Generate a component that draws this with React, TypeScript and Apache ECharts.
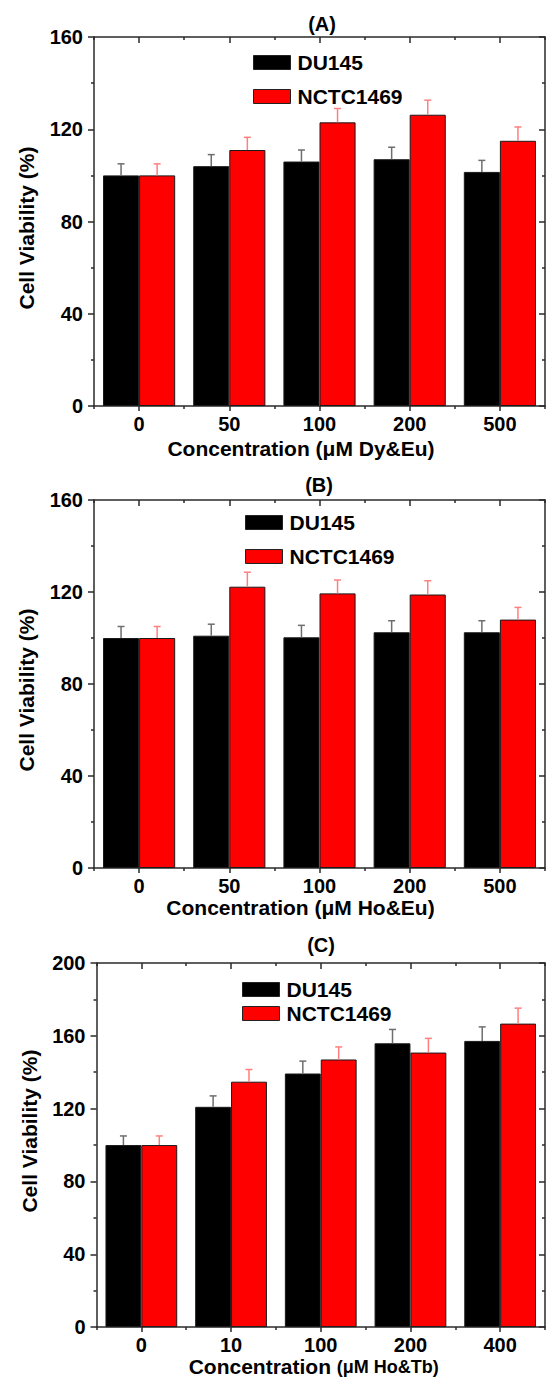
import React, { useEffect, useRef } from "react";
import * as echarts from "echarts";

// ---- Data ----
const categoriesA = ["0", "50", "100", "200", "500"];
const categoriesB = ["0", "50", "100", "200", "500"];
const categoriesC = ["0", "10", "100", "200", "400"];

const du145A = [100, 104, 106, 107, 101.5];
const du145ErrA = [5, 5, 5, 5.2, 5];
const nctcA = [100, 111, 123, 126.3, 115];
const nctcErrA = [5, 5.5, 6, 6.3, 6];

const du145B = [100, 101, 100.3, 102.5, 102.5];
const du145ErrB = [5, 5, 5.2, 5, 5];
const nctcB = [100, 122.3, 119.4, 118.9, 108];
const nctcErrB = [5, 6.3, 5.8, 6, 5.3];

const du145C = [100, 121, 139.3, 155.9, 157.2];
const du145ErrC = [5, 6, 6.8, 7.6, 7.7];
const nctcC = [100, 134.8, 147, 150.8, 166.7];
const nctcErrC = [5, 6.7, 6.9, 7.8, 8.5];

const yMaxA = 160;
const yMaxB = 160;
const yMaxC = 200;
const yInterval = 40;

const FONT = "'Liberation Sans', Arial, sans-serif";
const AXIS_COLOR = "#2a2a2a";

type Panel = {
  label: string;
  cats: string[];
  du: number[];
  duErr: number[];
  nc: number[];
  ncErr: number[];
  yMax: number;
  xName: string;
  xRich: boolean;
  grid: { left: number; top: number; width: number; height: number };
  titlePos: [number, number];
  legend: { left: number; top: number; gap: number };
  xNameGap: number;
  xNamePad: number[];
  yNamePad: number[];
};

const panels: Panel[] = [
  {
    label: "(A)",
    cats: categoriesA,
    du: du145A,
    duErr: du145ErrA,
    nc: nctcA,
    ncErr: nctcErrA,
    yMax: yMaxA,
    xName: "Concentration (μM Dy&Eu)",
    xRich: false,
    grid: { left: 94, top: 37, width: 451, height: 369 },
    titlePos: [322, 24],
    legend: { left: 248, top: 47, gap: 13 },
    xNameGap: 32,
    xNamePad: [0, 37, 0, 0],
    yNamePad: [0, 13, 0, 0],
  },
  {
    label: "(B)",
    cats: categoriesB,
    du: du145B,
    duErr: du145ErrB,
    nc: nctcB,
    ncErr: nctcErrB,
    yMax: yMaxB,
    xName: "Concentration (μM Ho&Eu)",
    xRich: false,
    grid: { left: 94, top: 500, width: 451, height: 368 },
    titlePos: [319, 485],
    legend: { left: 240, top: 507, gap: 13 },
    xNameGap: 29,
    xNamePad: [0, 38, 0, 0],
    yNamePad: [0, 12, 0, 0],
  },
  {
    label: "(C)",
    cats: categoriesC,
    du: du145C,
    duErr: du145ErrC,
    nc: nctcC,
    ncErr: nctcErrC,
    yMax: yMaxC,
    xName: "{a|Concentration }{b|(μM Ho&Tb)}",
    xRich: true,
    grid: { left: 96.5, top: 963, width: 448.5, height: 369 },
    titlePos: [321, 945],
    legend: { left: 237, top: 974, gap: 3 },
    xNameGap: 24,
    xNamePad: [0, 14, 0, 0],
    yNamePad: [0, 0, 0, 28],
  },
];

function errorSeries(
  name: string,
  data: number[],
  err: number[],
  xi: number,
  yi: number,
  sign: number,
  color: string
) {
  return {
    type: "custom",
    name,
    xAxisIndex: xi,
    yAxisIndex: yi,
    z: 5,
    silent: true,
    data: data.map((v, i) => [i, v, err[i]]),
    encode: { x: 0, y: 1 },
    renderItem: (params: any, api: any) => {
      const idx = api.value(0);
      const val = api.value(1);
      const e = api.value(2);
      const base = api.coord([idx, val]);
      const top = api.coord([idx, val + e]);
      const band = api.size([1, 0])[0];
      const x = base[0] + sign * band * 0.2;
      const style = { stroke: color, lineWidth: 1.5 };
      return {
        type: "group",
        children: [
          { type: "line", shape: { x1: x, y1: base[1], x2: x, y2: top[1] }, style },
          { type: "line", shape: { x1: x - 3.5, y1: top[1], x2: x + 3.5, y2: top[1] }, style },
        ],
      };
    },
  };
}

function buildOption() {
  const grid: any[] = [];
  const xAxis: any[] = [];
  const yAxis: any[] = [];
  const series: any[] = [];
  const legend: any[] = [];
  const graphic: any[] = [];

  panels.forEach((p, pi) => {
    grid.push({ ...p.grid, containLabel: false });
    const xb = pi * 4;
    const yb = pi * 2;
    const lineStyle = { color: AXIS_COLOR, width: 1.5 };
    const labelStyle = {
      fontSize: 20,
      fontWeight: "bold",
      fontFamily: FONT,
      color: "#000",
    };
    const nameStyle: any = {
      fontSize: 21,
      fontWeight: "bold",
      fontFamily: FONT,
      color: "#000",
      padding: p.xNamePad,
    };
    if (p.xRich) {
      nameStyle.rich = {
        a: { fontSize: 21, fontWeight: "bold", fontFamily: FONT, color: "#000" },
        b: { fontSize: 18, fontWeight: "bold", fontFamily: FONT, color: "#000" },
      };
    }
    // bottom main axis
    xAxis.push({
      type: "category",
      gridIndex: pi,
      position: "bottom",
      data: p.cats,
      boundaryGap: true,
      axisLine: { show: true, onZero: false, lineStyle },
      axisTick: { show: true, alignWithLabel: true, length: 5, lineStyle },
      axisLabel: { ...labelStyle, margin: 8 },
      name: p.xName,
      nameLocation: "middle",
      nameGap: p.xNameGap,
      nameTextStyle: nameStyle,
      splitLine: { show: false },
    });
    // bottom minor ticks (band boundaries)
    xAxis.push({
      type: "category",
      gridIndex: pi,
      position: "bottom",
      data: p.cats,
      boundaryGap: true,
      axisLine: { show: false, onZero: false },
      axisTick: { show: true, alignWithLabel: false, length: 3, lineStyle },
      axisLabel: { show: false },
      splitLine: { show: false },
    });
    // top main
    xAxis.push({
      type: "category",
      gridIndex: pi,
      position: "top",
      data: p.cats,
      boundaryGap: true,
      axisLine: { show: true, onZero: false, lineStyle },
      axisTick: { show: true, inside: true, alignWithLabel: true, length: 6, lineStyle },
      axisLabel: { show: false },
      splitLine: { show: false },
    });
    // top minor
    xAxis.push({
      type: "category",
      gridIndex: pi,
      position: "top",
      data: p.cats,
      boundaryGap: true,
      axisLine: { show: false, onZero: false },
      axisTick: { show: true, inside: true, alignWithLabel: false, length: 3, lineStyle },
      axisLabel: { show: false },
      splitLine: { show: false },
    });
    // left y
    yAxis.push({
      type: "value",
      gridIndex: pi,
      position: "left",
      min: 0,
      max: p.yMax,
      interval: yInterval,
      axisLine: { show: true, onZero: false, lineStyle },
      axisTick: { show: true, length: 6, lineStyle },
      minorTick: { show: true, splitNumber: 2, length: 3, lineStyle },
      axisLabel: { ...labelStyle, margin: 11 },
      splitLine: { show: false },
      name: "Cell Viability (%)",
      nameLocation: "middle",
      nameRotate: 90,
      nameGap: 57,
      nameTextStyle: {
        fontSize: 21,
        fontWeight: "bold",
        fontFamily: FONT,
        color: "#000",
        padding: p.yNamePad,
      },
    });
    // right y
    yAxis.push({
      type: "value",
      gridIndex: pi,
      position: "right",
      min: 0,
      max: p.yMax,
      interval: yInterval,
      axisLine: { show: true, onZero: false, lineStyle },
      axisTick: { show: true, inside: true, length: 6, lineStyle },
      minorTick: { show: true, splitNumber: 2, length: 3, lineStyle },
      axisLabel: { show: false },
      splitLine: { show: false },
    });

    const barBorder = { borderColor: "#1a1a1a", borderWidth: 1 };
    series.push({
      type: "bar",
      name: "DU145",
      xAxisIndex: xb,
      yAxisIndex: yb,
      data: p.du,
      barWidth: "40%",
      barGap: "0%",
      itemStyle: { color: "#000000", ...barBorder },
      z: 2,
    });
    series.push({
      type: "bar",
      name: "NCTC1469",
      xAxisIndex: xb,
      yAxisIndex: yb,
      data: p.nc,
      barWidth: "40%",
      barGap: "0%",
      itemStyle: { color: "#ff0000", ...barBorder },
      z: 2,
    });
    series.push(errorSeries("DU145 err " + pi, p.du, p.duErr, xb, yb, -1, "#6e6e6e"));
    series.push(errorSeries("NCTC1469 err " + pi, p.nc, p.ncErr, xb, yb, 1, "#ff7f7f"));

    legend.push({
      data: ["DU145", "NCTC1469"],
      orient: "vertical",
      left: p.legend.left,
      top: p.legend.top,
      itemGap: p.legend.gap,
      itemWidth: 37,
      itemHeight: 14,
      icon: "rect",
      selectedMode: false,
      itemStyle: { borderColor: "#222", borderWidth: 1 },
      textStyle: {
        fontSize: 21,
        fontWeight: "bold",
        fontFamily: FONT,
        color: "#000",
        padding: [0, 0, 0, 2],
      },
    });

    graphic.push({
      type: "text",
      x: p.titlePos[0],
      y: p.titlePos[1],
      style: {
        text: p.label,
        font: `bold 20px ${FONT}`,
        align: "center",
        verticalAlign: "middle",
        fill: "#000",
      },
    });
  });

  return {
    animation: false,
    backgroundColor: "#ffffff",
    grid,
    xAxis,
    yAxis,
    series,
    legend,
    graphic,
  };
}

export default function App() {
  const ref = useRef<HTMLDivElement>(null);
  useEffect(() => {
    if (!ref.current) return;
    const chart = echarts.init(ref.current, undefined, { renderer: "svg" });
    chart.setOption(buildOption() as any);
    return () => {
      chart.dispose();
    };
  }, []);
  return (
    <div
      ref={ref}
      style={{ position: "absolute", left: 0, top: 0, width: 546, height: 1378 }}
    />
  );
}
